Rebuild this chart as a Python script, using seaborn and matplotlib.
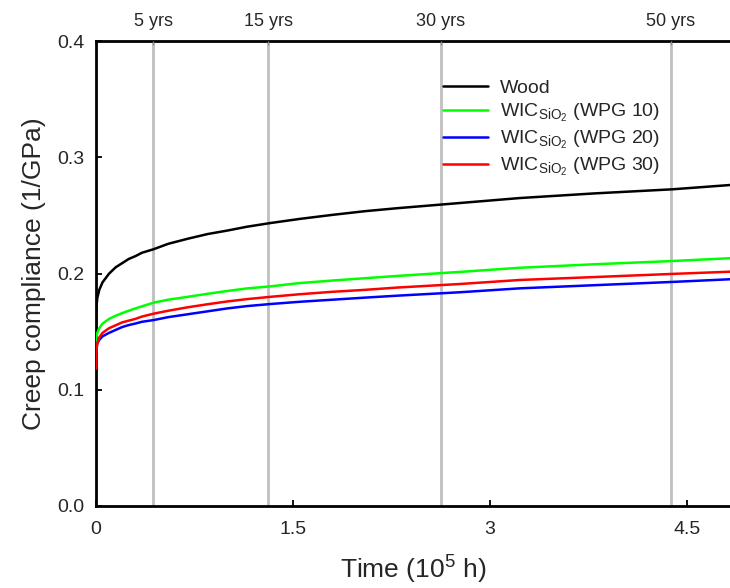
import pandas as pd
import matplotlib
matplotlib.use("Agg")
import matplotlib.pyplot as plt
import seaborn as sns


# time in 10^5 h (1/GPa)
time = [0, 0.003, 0.01, 0.025, 0.05, 0.1, 0.15, 0.2, 0.25, 0.3, 0.35, 0.44, 0.55, 0.7,
        0.85, 1.0, 1.15, 1.33, 1.55, 1.8, 2.05, 2.3, 2.77, 3.23, 3.8, 4.39, 4.83]
wood = [0.152, 0.171, 0.179, 0.186, 0.1925, 0.200, 0.2054, 0.209, 0.2126, 0.215, 0.2179,
        0.221, 0.2256, 0.230, 0.234, 0.237, 0.2403, 0.2435, 0.247, 0.2505, 0.2537,
        0.2563, 0.2607, 0.2650, 0.2690, 0.2725, 0.2762]
wpg10 = [0.138, 0.145, 0.149, 0.153, 0.157, 0.161, 0.1637, 0.166, 0.168, 0.170, 0.1718,
         0.175, 0.1775, 0.180, 0.1826, 0.185, 0.1872, 0.189, 0.1918, 0.194, 0.196,
         0.198, 0.2014, 0.205, 0.208, 0.2108, 0.2132]
wpg20 = [0.128, 0.136, 0.140, 0.143, 0.146, 0.149, 0.1515, 0.154, 0.1557, 0.157, 0.1585,
         0.160, 0.1625, 0.165, 0.1675, 0.170, 0.172, 0.1738, 0.1757, 0.1775, 0.1793,
         0.181, 0.1839, 0.1873, 0.190, 0.1928, 0.1951]
wpg30 = [0.118, 0.133, 0.140, 0.145, 0.149, 0.153, 0.1555, 0.158, 0.1595, 0.161, 0.163,
         0.1655, 0.168, 0.171, 0.1736, 0.176, 0.178, 0.180, 0.1822, 0.1843, 0.186,
         0.188, 0.191, 0.1945, 0.197, 0.1997, 0.2016]

series_names = ["Wood", "WPG 10", "WPG 20", "WPG 30"]
series_colors = ["black", "#00ff00", "#0000ff", "#ff0000"]
legend_labels = ["Wood",
                 r"WIC$_{\mathrm{SiO}_2}$ (WPG 10)",
                 r"WIC$_{\mathrm{SiO}_2}$ (WPG 20)",
                 r"WIC$_{\mathrm{SiO}_2}$ (WPG 30)"]

# service-life markers (10^5 h) and their labels
year_pos = [0.438, 1.314, 2.628, 4.38]
year_labels = ["5 yrs", "15 yrs", "30 yrs", "50 yrs"]

x_ticks = [0, 1.5, 3, 4.5]
x_tick_labels = ["0", "1.5", "3", "4.5"]
y_ticks = [0.0, 0.1, 0.2, 0.3, 0.4]

sns.set_style("ticks")
plt.rcParams["font.family"] = ["Liberation Sans", "DejaVu Sans"]
plt.rcParams["mathtext.fontset"] = "custom"
plt.rcParams["mathtext.rm"] = "Liberation Sans"
plt.rcParams["mathtext.it"] = "Liberation Sans:italic"
plt.rcParams["xtick.direction"] = "in"
plt.rcParams["ytick.direction"] = "in"

df = pd.concat([
    pd.DataFrame({"Time": time, "J": vals, "Sample": name})
    for name, vals in zip(series_names, [wood, wpg10, wpg20, wpg30])
])

fig = plt.figure(figsize=(7.30, 5.88), dpi=100)
ax = fig.add_axes([0.1315, 0.1395, 0.8685, 0.7905])

for xp in year_pos:
    ax.axvline(xp, color="#c0c0c0", lw=2, zorder=1)

sns.lineplot(data=df, x="Time", y="J", hue="Sample", palette=series_colors,
             hue_order=series_names, linewidth=1.8, ax=ax, legend=False, zorder=3)

ax.set_xlim(0, 4.83)
ax.set_ylim(0, 0.4)
ax.set_xticks(x_ticks)
ax.set_xticklabels(x_tick_labels)
ax.set_yticks(y_ticks)
ax.set_yticklabels([f"{v:.1f}" for v in y_ticks])
ax.tick_params(labelsize=14, length=4.5, width=1.3, color="black")
ax.tick_params(axis="x", pad=11)
ax.tick_params(axis="y", pad=8.5)
ax.set_xlabel(r"Time (10$^5$ h)", fontsize=19, labelpad=11)
ax.set_ylabel("Creep compliance (1/GPa)", fontsize=19, labelpad=8)

for side in ["left", "bottom", "top"]:
    ax.spines[side].set_linewidth(2)
    ax.spines[side].set_color("black")
ax.spines["right"].set_visible(False)

top = ax.twiny()
top.set_xlim(ax.get_xlim())
top.set_xticks(year_pos)
top.set_xticklabels(year_labels)
top.tick_params(labelsize=13, length=3, width=1, direction="in", color="#909090", pad=8)
for side in top.spines:
    top.spines[side].set_visible(False)

handles = [plt.Line2D([], [], color=c, lw=1.8) for c in series_colors]
ax.legend(handles, legend_labels, loc="upper left", bbox_to_anchor=(0.547, 0.918),
          frameon=False, fontsize=14, handlelength=2.3, handletextpad=0.65,
          labelspacing=0.25, borderpad=0, borderaxespad=0)

fig.savefig("out.png", dpi=100)
